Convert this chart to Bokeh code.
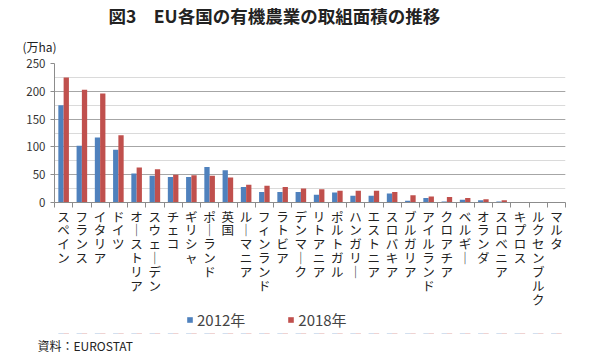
from bokeh.plotting import figure
from bokeh.layouts import column
from bokeh.models import (Range1d, LinearAxis, FixedTicker, SingleIntervalTicker, Legend,
                          LegendItem, Title, ColumnDataSource)
from bokeh.transform import dodge
from bokeh.embed import file_html
from bokeh.resources import INLINE

countries = ["スペイン", "フランス", "イタリア", "ドイツ", "オーストリア", "スウェーデン", "チェコ",
             "ギリシャ", "ポーランド", "英国", "ルーマニア", "フィンランド", "ラトビア", "デンマーク",
             "リトアニア", "ポルトガル", "ハンガリー", "エストニア", "スロバキア", "ブルガリア",
             "アイルランド", "クロアチア", "ベルギー", "オランダ", "スロベニア", "キプロス",
             "ルクセンブルク", "マルタ"]
area_2012 = [175, 102, 117, 95, 52, 48, 46, 46, 64, 58, 28, 19, 19, 19,
             14, 18, 12, 12, 16, 3, 8, 2, 5, 4, 2, 0.4, 0.4, 0.02]
area_2018 = [225, 203, 196, 121, 63, 60, 50, 49, 48, 45, 32, 30, 28, 25,
             24, 21, 21, 21, 19, 13, 11, 10, 8, 6, 4, 0.6, 0.6, 0.04]
series = ["2012年", "2018年"]
y_ticks_interval = 50

JP = "Noto Sans CJK JP"
BLUE, RED = "#4F81BD", "#C0504D"
n = len(countries)
# category i occupies [2i, 2i+2] on the x scale; its centre is 2i+1
centres = [2 * i + 1 for i in range(n)]
bounds = [2 * i for i in range(n + 1)]
labels = {c: "\n".join(name.replace("ー", "｜")) for c, name in zip(centres, countries)}
src = ColumnDataSource(dict(x=centres, a12=area_2012, a18=area_2018))

p = figure(x_range=Range1d(0, 2 * n), y_range=Range1d(0, 250), width=600, height=312,
           output_backend="svg", toolbar_location=None, x_axis_location=None, title=None,
           min_border_left=54, min_border_right=35, min_border_top=62, min_border_bottom=110)
p.outline_line_color = None
p.xgrid.visible = False

p.vbar(x=dodge("x", -0.29), top="a12", width=0.58, source=src, fill_color=BLUE, line_color=None)
p.vbar(x=dodge("x", 0.29), top="a18", width=0.58, source=src, fill_color=RED, line_color=None)

sep = LinearAxis(ticker=FixedTicker(ticks=bounds), major_label_overrides={b: "" for b in bounds},
                 major_tick_out=5, major_tick_in=0, minor_tick_out=0, minor_tick_in=0,
                 major_label_text_font_size="0px", major_label_standoff=0,
                 axis_line_color="#8c8c8c", major_tick_line_color="#8c8c8c")
p.add_layout(sep, "below")
cat = LinearAxis(ticker=FixedTicker(ticks=centres), major_label_overrides=labels,
                 axis_line_color=None, major_tick_line_color=None, minor_tick_line_color=None,
                 major_label_standoff=-7, major_label_text_font=JP,
                 major_label_text_font_size="12.5px", major_label_text_color="#222222",
                 major_label_text_line_height=0.73)
p.add_layout(cat, "below")

p.yaxis.ticker = SingleIntervalTicker(interval=y_ticks_interval, num_minor_ticks=2)
p.yaxis.axis_line_color = "#8c8c8c"
p.yaxis.major_tick_line_color = "#8c8c8c"
p.yaxis.major_tick_out = 4
p.yaxis.major_tick_in = 0
p.yaxis.minor_tick_out = 0
p.yaxis.minor_tick_in = 0
p.yaxis.major_label_text_font = JP
p.yaxis.major_label_text_font_size = "11.5px"
p.yaxis.major_label_text_color = "#333333"
p.ygrid.grid_line_color = "#a6a6a6"
p.ygrid.minor_grid_line_color = "#dadada"

p.add_layout(Title(text="(万ha)", align="left", offset=-32, text_font=JP,
                   text_font_size="12px", text_font_style="normal", text_color="#222222",
                   standoff=17), "above")
p.add_layout(Title(text="図3　EU各国の有機農業の取組面積の推移", align="left", offset=54,
                   text_font=JP, text_font_size="17.5px", text_font_style="bold",
                   text_color="#222222", standoff=0), "above")

# strip below the chart: legend and source note (same series, drawn out of view)
q = figure(x_range=Range1d(0, 2 * n), y_range=Range1d(1000, 1001), width=600, height=42,
           output_backend="svg", toolbar_location=None, x_axis_location=None,
           y_axis_location=None, title=None, min_border=0)
q.outline_line_color = None
q.grid.visible = False
q1 = q.vbar(x=dodge("x", -0.29), top="a12", width=0.58, source=src, fill_color=BLUE, line_color=None)
q2 = q.vbar(x=dodge("x", 0.29), top="a18", width=0.58, source=src, fill_color=RED, line_color=None)
legend = Legend(items=[LegendItem(label=series[0], renderers=[q1]),
                       LegendItem(label=series[1], renderers=[q2])],
                orientation="horizontal", location=(132, 3), padding=0, margin=0,
                border_line_color=None, background_fill_alpha=0, glyph_width=7, glyph_height=7,
                label_text_font=JP, label_text_font_size="15px", spacing=42, label_standoff=4,
                label_height=15)
q.add_layout(legend, "center")
q.add_layout(Title(text="資料：EUROSTAT", align="left", offset=-17, text_font=JP,
                   text_font_size="12px", text_font_style="normal", text_color="#222222",
                   standoff=2), "below")

layout = column(p, q, spacing=0)
open("out.html", "w").write(file_html(layout, INLINE))
